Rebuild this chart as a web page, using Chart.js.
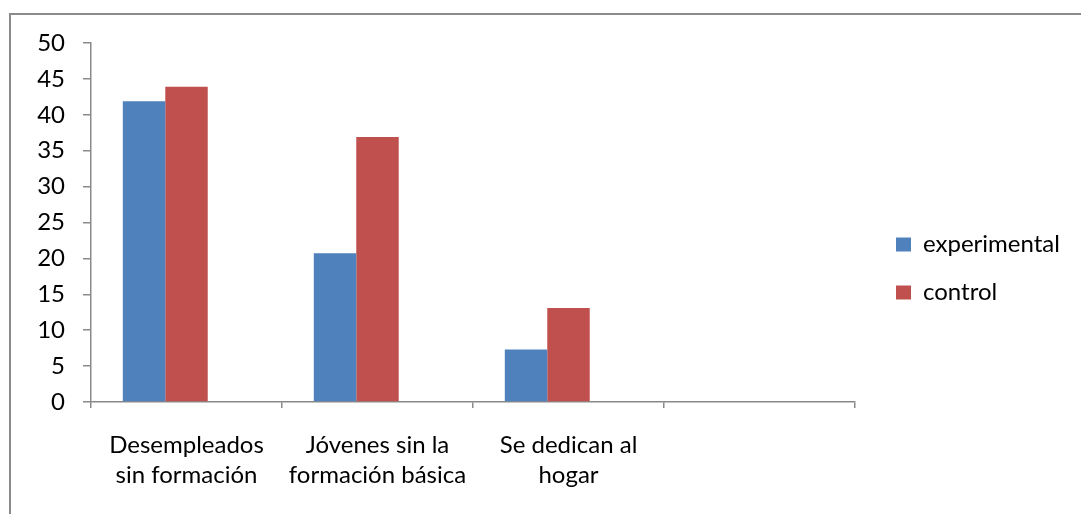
<!DOCTYPE html>
<html>
<head>
<meta charset="utf-8">
<script src="https://cdn.jsdelivr.net/npm/chart.js@4/dist/chart.umd.min.js"></script>
<style>
  html, body { margin: 0; padding: 0; background: #fff; }
  #frame {
    position: absolute; left: 9px; top: 13px;
    width: 1072px; height: 501px;
    border-top: 2px solid #8a8a8a; border-left: 2px solid #8a8a8a;
  }
  #wrap { width: 1070px; height: 499px; }
</style>
</head>
<body>
<div id="frame"><div id="wrap"><canvas id="chart"></canvas></div></div>
<script>
// Data
const categories = [
  ['Desempleados', 'sin formación'],
  ['Jóvenes sin la', 'formación básica'],
  ['Se dedican al', 'hogar'],
  ''
];
const experimental = [41.9, 20.7, 7.3, null];
const control = [43.9, 36.9, 13.1, null];
// the source sheet has a third, empty series that still takes a bar slot
const emptySeries = [null, null, null, null];
const yTicks = [0, 5, 10, 15, 20, 25, 30, 35, 40, 45, 50];

const font = { family: 'Lato, "Open Sans", sans-serif', size: 24 };
const axisColor = '#8a8a8a';

// fixed legend width, then nudge its items into place after layout
const legendFix = {
  id: 'legendFix',
  afterInit(chart) {
    const lg = chart.legend;
    const fit = lg.fit;
    lg.fit = function () { fit.call(this); this.width = 226; };
  },
  afterLayout(chart) {
    const lg = chart.legend;
    lg.left += 17; lg.right += 17;
    lg.top -= 10; lg.bottom -= 10;
  }
};

const ctx = document.getElementById('chart').getContext('2d');
new Chart(ctx, {
  type: 'bar',
  data: {
    labels: categories,
    datasets: [
      { label: 'experimental', data: experimental, backgroundColor: '#4F81BD' },
      { label: 'control', data: control, backgroundColor: '#C0504D' },
      { label: '', data: emptySeries, backgroundColor: '#9BBB59' }
    ]
  },
  options: {
    responsive: true,
    maintainAspectRatio: false,
    animation: false,
    layout: { padding: { top: 28, left: 0, right: 0, bottom: 0 } },
    datasets: { bar: { categoryPercentage: 0.667, barPercentage: 1 } },
    plugins: {
      title: { display: false },
      tooltip: { enabled: false },
      legend: {
        position: 'right',
        labels: {
          font: font, color: '#000',
          boxWidth: 15, boxHeight: 14, padding: 24,
          filter: item => item.text !== ''
        }
      }
    },
    scales: {
      x: {
        afterFit: s => { s.height = 112; },
        border: { color: axisColor, width: 1.5 },
        grid: { drawOnChartArea: false, color: axisColor, tickLength: 6, lineWidth: 1.5 },
        ticks: { font: { ...font, lineHeight: 1.25 }, color: '#000', padding: 22, maxRotation: 0 }
      },
      y: {
        min: 0, max: 50,
        afterFit: s => { s.width = 80; s.paddingTop = 0; s.paddingBottom = 0; },
        afterBuildTicks: s => { s.ticks = yTicks.map(v => ({ value: v })); },
        border: { color: axisColor, width: 1.5 },
        grid: { drawOnChartArea: false, color: axisColor, tickLength: 8, lineWidth: 1.5 },
        ticks: { font: font, color: '#000', padding: 18 }
      }
    }
  },
  plugins: [legendFix]
});
</script>
</body>
</html>
